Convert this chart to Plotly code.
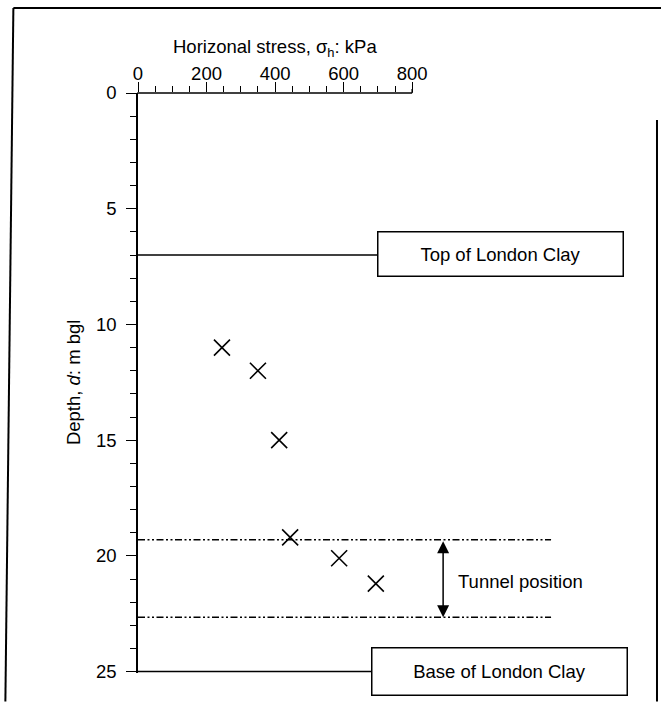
import plotly.graph_objects as go

# ---------------- data ----------------
stress_kpa = [245, 350, 412, 444, 587, 694]
depth_m = [11.0, 12.0, 15.0, 19.2, 20.1, 21.2]
x_tick_vals = [0, 200, 400, 600, 800]
x_minor_vals = [50, 100, 150, 250, 300, 350, 450, 500, 550, 650, 700, 750]
y_tick_vals = [0, 5, 10, 15, 20, 25]
y_minor_vals = [d for d in range(1, 25) if d % 5 != 0]
clay_top_depth = 7.0
clay_base_depth = 25.0
tunnel_top_depth = 19.3
tunnel_bottom_depth = 22.65

# ---------------- layout geometry (pixels) ----------------
W, H = 661, 702
L, T = 137.7, 93.0
R_PX, B_PX = 650.0, 673.5
XPX = (412.0 - 137.7) / 800.0
X_MAX = (R_PX - L) / XPX
Y_MAX = 25.06

def xd(p):  # pixel -> x data
    return (p - L) / XPX

def px(p):  # pixel -> paper x
    return (p - L) / (R_PX - L)

def py(p):  # pixel -> paper y
    return 1 - (p - T) / (B_PX - T)

FONT = "Liberation Sans, Arial, Helvetica, sans-serif"
FS = 18.5

fig = go.Figure()

# horizontal reference lines
fig.add_trace(go.Scatter(x=[0, xd(377)], y=[clay_top_depth] * 2, mode="lines",
                         line=dict(color="black", width=1.5), hoverinfo="skip"))
fig.add_trace(go.Scatter(x=[0, xd(371)], y=[clay_base_depth] * 2, mode="lines",
                         line=dict(color="black", width=1.5), hoverinfo="skip"))
dd = "7px,2.5px,2px,2.5px,2px,2.5px"
for d in (tunnel_top_depth, tunnel_bottom_depth):
    fig.add_trace(go.Scatter(x=[0, xd(551)], y=[d, d], mode="lines",
                             line=dict(color="black", width=1.6, dash=dd), hoverinfo="skip"))

# data points
fig.add_trace(go.Scatter(x=stress_kpa, y=depth_m, mode="markers",
                         marker=dict(symbol="x-thin", size=16,
                                     line=dict(color="black", width=1.6)),
                         cliponaxis=False))

shapes = [
    # top axis line from 0 to 800
    dict(type="line", xref="paper", yref="paper", x0=px(L - 0.75), x1=px(L + 800 * XPX),
         y0=1, y1=1, line=dict(color="black", width=1.6)),
    dict(type="line", xref="paper", yref="paper", x0=px(L + 800 * XPX), x1=px(L + 800 * XPX),
         y0=1, y1=py(T - 4), line=dict(color="black", width=1.4)),
    # page frame
    dict(type="line", xref="paper", yref="paper", x0=px(13), x1=px(661), y0=py(8), y1=py(8),
         line=dict(color="black", width=2)),
    dict(type="line", xref="paper", yref="paper", x0=px(13), x1=px(5), y0=py(8), y1=py(702),
         line=dict(color="black", width=2)),
    dict(type="line", xref="paper", yref="paper", x0=px(657), x1=px(657), y0=py(120), y1=py(702),
         line=dict(color="black", width=2)),
]

annotations = [
    dict(text="Horizonal stress, σ<sub>h</sub>: kPa", xref="paper", yref="paper",
         x=px(275), y=py(48), showarrow=False, font=dict(size=FS, family=FONT, color="black"),
         xanchor="center", yanchor="middle"),
    dict(text="Depth, <i>d</i>: m bgl", xref="paper", yref="paper",
         x=px(73), y=py(383), showarrow=False, textangle=-90,
         font=dict(size=FS, family=FONT, color="black"), xanchor="center", yanchor="middle"),
    dict(text="Top of London Clay", xref="paper", yref="paper", x=px(500), y=py(254.5),
         showarrow=False, width=244, height=43, borderpad=0, bordercolor="black",
         borderwidth=1.5, bgcolor="white", font=dict(size=FS, family=FONT, color="black"),
         xanchor="center", yanchor="middle"),
    dict(text="Base of London Clay", xref="paper", yref="paper", x=px(499), y=py(672),
         showarrow=False, width=254, height=46, borderpad=0, bordercolor="black",
         borderwidth=1.5, bgcolor="white", font=dict(size=FS, family=FONT, color="black"),
         xanchor="center", yanchor="middle"),
    dict(text="Tunnel position", xref="paper", yref="paper", x=px(520.5), y=py(582),
         showarrow=False, font=dict(size=FS, family=FONT, color="black"),
         xanchor="center", yanchor="middle"),
    dict(text="", x=xd(443), y=tunnel_bottom_depth, xref="x", yref="y",
         ax=xd(443), ay=tunnel_top_depth, axref="x", ayref="y",
         showarrow=True, arrowside="end+start", arrowhead=2, startarrowhead=2,
         arrowsize=1.6, startarrowsize=1.6, arrowwidth=1.5, arrowcolor="black",
         standoff=0, startstandoff=0),
]

fig.update_layout(
    width=W, height=H,
    margin=dict(l=L, r=W - R_PX, t=T, b=H - B_PX, pad=0, autoexpand=False),
    paper_bgcolor="white", plot_bgcolor="white",
    showlegend=False,
    font=dict(family=FONT, size=FS, color="black"),
    shapes=shapes, annotations=annotations,
    xaxis=dict(side="top", range=[0, X_MAX], tickmode="array", tickvals=x_tick_vals,
               ticktext=[str(v) for v in x_tick_vals], ticks="outside", ticklen=10,
               tickwidth=1.4, tickcolor="black", showline=False, showgrid=False,
               zeroline=False, automargin=False, ticklabelstandoff=-5,
               tickfont=dict(size=FS, family=FONT, color="black"),
               minor=dict(tickmode="array", tickvals=x_minor_vals, ticks="outside",
                          ticklen=6, tickwidth=1.2, tickcolor="black", showgrid=False)),
    yaxis=dict(range=[Y_MAX, 0], tickmode="array", tickvals=y_tick_vals,
               ticktext=[str(v) for v in y_tick_vals], ticks="outside", ticklen=10,
               tickwidth=1.4, tickcolor="black", showline=True, linewidth=1.6,
               linecolor="black", showgrid=False, zeroline=False, automargin=False,
               ticklabelstandoff=6,
               tickfont=dict(size=FS, family=FONT, color="black"),
               minor=dict(tickmode="array", tickvals=y_minor_vals, ticks="outside",
                          ticklen=6, tickwidth=1.2, tickcolor="black", showgrid=False)),
)

fig.write_html("out.html")
